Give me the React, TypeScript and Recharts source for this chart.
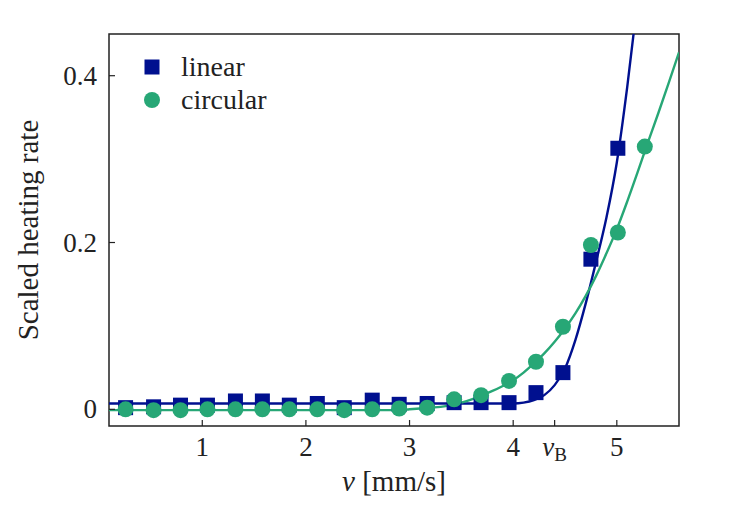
import React from "react";
import {
  ComposedChart,
  Line,
  Scatter,
  XAxis,
  YAxis,
  Legend,
  ReferenceArea,
} from "recharts";

// measured speeds v [mm/s]
const speeds = [
  0.26, 0.53, 0.79, 1.05, 1.32, 1.58, 1.84, 2.11, 2.37, 2.64, 2.9, 3.17, 3.43,
  3.69, 3.96, 4.22, 4.48, 4.75, 5.01, 5.27,
];
const linearRate = [
  0.002, 0.003, 0.005, 0.005, 0.01, 0.01, 0.005, 0.007, 0.002, 0.011, 0.006,
  0.007, 0.008, 0.008, 0.008, 0.02, 0.044, 0.18, 0.313,
];
const circularRate = [
  0.0, -0.001, -0.001, 0.0, 0.0, 0.0, 0.0, 0.0, -0.001, 0.0, 0.001, 0.002,
  0.012, 0.017, 0.034, 0.057, 0.099, 0.197, 0.212, 0.315,
];

// fitted curves
const linearFitV = [
  0.1, 1, 2, 3, 3.9, 4.0, 4.1, 4.2, 4.3, 4.4, 4.5, 4.6, 4.7, 4.8, 4.9, 5.0,
  5.1, 5.2,
];
const linearFitRate = [
  0.007, 0.007, 0.007, 0.007, 0.007, 0.007, 0.008, 0.011, 0.017, 0.029, 0.049,
  0.083, 0.127, 0.177, 0.23, 0.296, 0.386, 0.49,
];
const circularFitV = [
  0.1, 1, 2, 2.9, 3.0, 3.1, 3.2, 3.3, 3.4, 3.5, 3.6, 3.7, 3.8, 3.9, 4.0, 4.1,
  4.2, 4.3, 4.4, 4.5, 4.6, 4.7, 4.8, 4.9, 5.0, 5.1, 5.2, 5.3, 5.4, 5.5, 5.6,
];
const circularFitRate = [
  -0.001, -0.001, -0.001, -0.001, 0.0, 0.001, 0.002, 0.003, 0.005, 0.008,
  0.012, 0.017, 0.022, 0.028, 0.035, 0.044, 0.055, 0.067, 0.081, 0.097, 0.115,
  0.136, 0.16, 0.187, 0.216, 0.249, 0.284, 0.32, 0.355, 0.391, 0.428,
];

const xTicks = [1, 2, 3, 4, 4.4, 5];
const yTicks = [0, 0.2, 0.4];

const BLUE = "#00108f";
const GREEN = "#27a776";
const FONT = "'Liberation Serif', 'DejaVu Serif', serif";
const FS = 27;
const LABEL_FS = 29;

const toPoints = (xs: number[], ys: number[]) =>
  ys.map((rate, i) => ({ v: xs[i], rate }));

const linearPts = toPoints(speeds, linearRate);
const circularPts = toPoints(speeds, circularRate);
const linearFit = toPoints(linearFitV, linearFitRate);
const circularFit = toPoints(circularFitV, circularFitRate);

const Square = (props: any) => (
  <rect x={props.cx - 7.5} y={props.cy - 7.5} width={15} height={15} fill={BLUE} />
);
const Dot = (props: any) => <circle cx={props.cx} cy={props.cy} r={8} fill={GREEN} />;

const XTick = (props: any) => {
  const { x, y, payload } = props;
  const isB = payload.value === 4.4;
  return (
    <g>
      <line x1={x} x2={x} y1={y} y2={y - 6} stroke="#222" strokeWidth={1.2} />
      <text x={x} y={y + 30} textAnchor="middle" fontFamily={FONT} fontSize={FS} fill="#222">
        {isB ? (
          <>
            <tspan fontStyle="italic">v</tspan>
            <tspan fontSize={19} dy={5}>B</tspan>
          </>
        ) : (
          payload.value
        )}
      </text>
    </g>
  );
};

const YTick = (props: any) => {
  const { x, y, payload } = props;
  return (
    <g>
      <line x1={x} x2={x + 6} y1={y} y2={y} stroke="#222" strokeWidth={1.2} />
      <text x={x - 12} y={y + 9} textAnchor="end" fontFamily={FONT} fontSize={FS} fill="#222">
        {payload.value}
      </text>
    </g>
  );
};

const LegendBox = () => (
  <div style={{ fontFamily: FONT, fontSize: 28, color: "#222" }}>
    <div style={{ display: "flex", alignItems: "center", height: 33 }}>
      <svg width={16} height={16}>
        <rect x={0.5} y={0.5} width={15} height={15} fill={BLUE} />
      </svg>
      <span style={{ marginLeft: 21 }}>linear</span>
    </div>
    <div style={{ display: "flex", alignItems: "center", height: 33 }}>
      <svg width={16} height={16}>
        <circle cx={8} cy={8} r={8} fill={GREEN} />
      </svg>
      <span style={{ marginLeft: 21 }}>circular</span>
    </div>
  </div>
);

export default function App() {
  return (
    <ComposedChart
      width={714}
      height={489}
      margin={{ top: 26, right: 43, left: 41, bottom: 31 }}
    >
      <XAxis
        dataKey="v"
        type="number"
        domain={[0.1, 5.6]}
        allowDataOverflow
        ticks={xTicks}
        interval={0}
        tickSize={0}
        tickMargin={0}
        axisLine={false}
        tickLine={false}
        tick={<XTick />}
        height={40}
        label={{
          content: (p: any) => {
            const vb = p.viewBox;
            return (
              <text
                x={vb.x + vb.width / 2}
                y={vb.y + 65}
                textAnchor="middle"
                fontFamily={FONT}
                fontSize={LABEL_FS}
                fill="#222"
              >
                <tspan fontStyle="italic">v</tspan>
                <tspan> [mm/s]</tspan>
              </text>
            );
          },
        }}
      />
      <YAxis
        dataKey="rate"
        type="number"
        domain={[-0.02, 0.45]}
        allowDataOverflow
        ticks={yTicks}
        interval={0}
        tickSize={0}
        tickMargin={0}
        axisLine={false}
        tickLine={false}
        tick={<YTick />}
        width={60}
        label={{
          content: (p: any) => {
            const vb = p.viewBox;
            const cx = vb.x + vb.width - 81;
            const cy = vb.y + vb.height / 2;
            return (
              <text
                x={cx}
                y={cy}
                textAnchor="middle"
                dominantBaseline="central"
                fontFamily={FONT}
                fontSize={LABEL_FS}
                fill="#222"
                transform={`rotate(-90 ${cx} ${cy})`}
              >
                Scaled heating rate
              </text>
            );
          },
        }}
      />
      <ReferenceArea
        x1={0.1}
        x2={5.6}
        y1={-0.02}
        y2={0.45}
        fill="none"
        stroke="#222"
        strokeWidth={1.5}
        ifOverflow="visible"
      />
      <Scatter name="linear" data={linearPts} dataKey="rate" shape={Square} isAnimationActive={false} />
      <Scatter name="circular" data={circularPts} dataKey="rate" shape={Dot} isAnimationActive={false} />
      <Line
        data={linearFit}
        dataKey="rate"
        type="monotone"
        stroke={BLUE}
        strokeWidth={2.4}
        dot={false}
        activeDot={false}
        isAnimationActive={false}
        legendType="none"
      />
      <Line
        data={circularFit}
        dataKey="rate"
        type="monotone"
        stroke={GREEN}
        strokeWidth={2.4}
        dot={false}
        activeDot={false}
        isAnimationActive={false}
        legendType="none"
      />
      <Legend
        layout="vertical"
        align="center"
        verticalAlign="middle"
        content={<LegendBox />}
        wrapperStyle={{ left: 136, top: 42, width: "auto" }}
      />
    </ComposedChart>
  );
}
